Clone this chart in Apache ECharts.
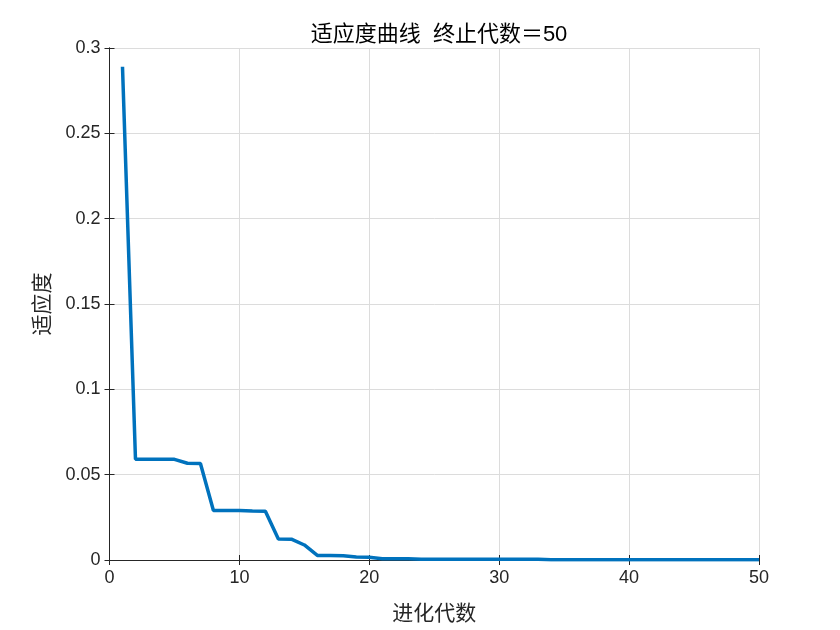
<!DOCTYPE html>
<html><head><meta charset="utf-8">
<script src="https://cdn.jsdelivr.net/npm/echarts@6/dist/echarts.min.js"></script>
<style>html,body{margin:0;padding:0;background:#fff}#c{width:840px;height:630px}</style>
</head><body><div id="c"></div>
<script>
const generations = [1,2,3,4,5,6,7,8,9,10,11,12,13,14,15,16,17,18,19,20,21,22,23,24,25,26,27,28,29,30,31,32,33,34,35,36,37,38,39,40,41,42,43,44,45,46,47,48,49,50];
const fitness = [0.289,0.059,0.059,0.059,0.059,0.0567,0.0565,0.029,0.029,0.029,0.0287,0.0286,0.0123,0.0122,0.0088,0.0027,0.0027,0.0025,0.0018,0.0016,0.0008,0.0008,0.0007,0.0005,0.0005,0.0004,0.0004,0.0004,0.0004,0.0004,0.0004,0.0004,0.0004,0.0002,0.0002,0.0002,0.0002,0.0002,0.0002,0.0002,0.0002,0.0002,0.0002,0.0002,0.0002,0.0002,0.0002,0.0002,0.0002,0.0002];
const titleText = '适应度曲线  终止代数＝50';
const xName = '进化代数';
const yName = '适应度';

const FONT = '"Liberation Sans", "Noto Sans CJK SC", sans-serif';
const chart = echarts.init(document.getElementById('c'));
const axisLine = {show:true, lineStyle:{color:'#262626', width:1}};
const tick = {show:true, inside:true, length:5, lineStyle:{color:'#262626'}};
const grid = {show:true, lineStyle:{color:'#dcdcdc', width:1}};
chart.setOption({
  animation:false,
  title:{text:titleText, left:434, top:19, textAlign:'center',
    textStyle:{fontFamily:FONT, fontSize:22, fontWeight:'normal', color:'#000'}},
  grid:{left:109.5, right:81, top:48, bottom:70},
  xAxis:[
    {type:'value', min:0, max:50, interval:10, position:'bottom',
     axisLine:axisLine, axisTick:tick, splitLine:grid,
     axisLabel:{fontFamily:FONT, fontSize:18, color:'#262626', margin:9},
     name:xName, nameLocation:'middle', nameGap:44,
     nameTextStyle:{fontFamily:FONT, fontSize:21, color:'#262626'}},
    {type:'value', min:0, max:50, interval:10, position:'top',
     axisLine:axisLine, axisTick:tick, splitLine:{show:false}, axisLabel:{show:false}}
  ],
  yAxis:[
    {type:'value', min:0, max:0.3, interval:0.05, position:'left',
     axisLine:axisLine, axisTick:tick, splitLine:grid,
     axisLabel:{fontFamily:FONT, fontSize:18, color:'#262626', margin:9},
     name:yName, nameLocation:'middle', nameGap:56, nameRotate:90,
     nameTextStyle:{fontFamily:FONT, fontSize:21, color:'#262626'}},
    {type:'value', min:0, max:0.3, interval:0.05, position:'right',
     axisLine:axisLine, axisTick:tick, splitLine:{show:false}, axisLabel:{show:false}}
  ],
  series:[{
    type:'line', xAxisIndex:0, yAxisIndex:0,
    data: generations.map((g,i)=>[g, fitness[i]]),
    showSymbol:false, symbol:'none',
    lineStyle:{color:'#0072BD', width:3.5},
    clip:true
  }]
});
</script></body></html>
